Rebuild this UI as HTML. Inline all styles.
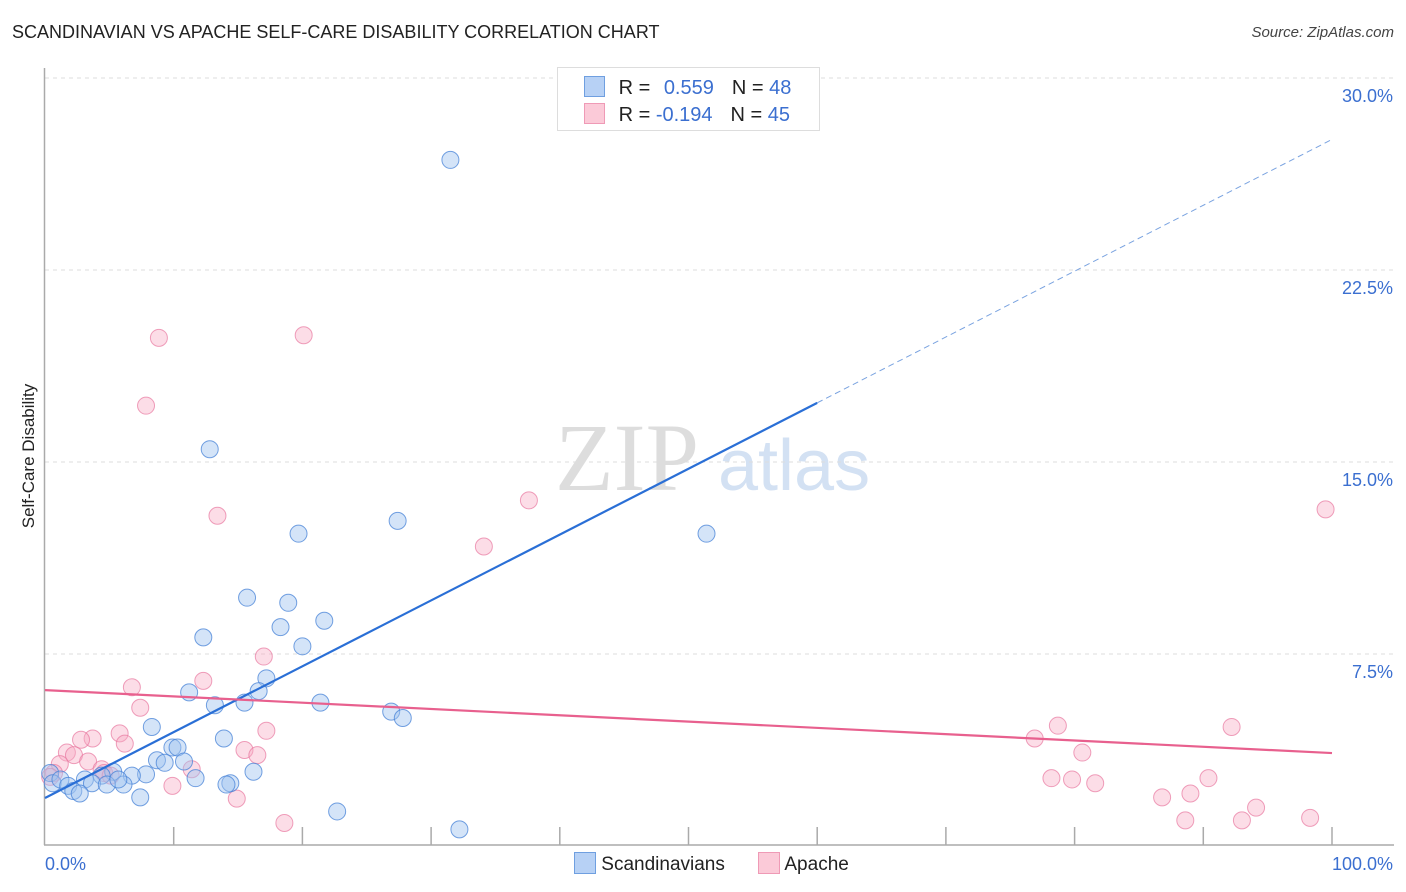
<!DOCTYPE html>
<html><head><meta charset="utf-8">
<style>
body{margin:0;background:#fff;font-family:"Liberation Sans",sans-serif;}
#wrap{position:relative;width:1406px;height:892px;overflow:hidden;}
.t{position:absolute;white-space:nowrap;}
</style></head>
<body>
<div id="wrap">
<div class="t" style="left:12px;top:22px;font-size:18px;color:#222;">SCANDINAVIAN VS APACHE SELF-CARE DISABILITY CORRELATION CHART</div>
<div class="t" style="right:12px;top:24px;font-size:15px;color:#444;font-style:italic;">Source: ZipAtlas.com</div>
<svg id="svg" width="1406" height="892" style="position:absolute;left:0;top:0"></svg>
</div>
<script>
const blueX=[31.5,12.8,27.4,19.7,51.4,15.7,18.9,21.7,18.3,12.3,20.0,17.2,11.2,16.6,13.2,15.5,21.4,26.9,27.8,8.3,13.9,9.9,10.3,8.7,9.3,10.8,16.2,7.85,6.75,5.3,11.7,14.4,14.1,4.4,3.1,6.1,3.65,4.8,5.7,0.4,0.6,1.2,1.8,2.2,2.7,7.4,22.7,32.2];
const blueY=[26.8,15.5,12.7,12.2,12.2,9.7,9.5,8.8,8.55,8.15,7.8,6.55,6.0,6.05,5.5,5.6,5.6,5.25,5.0,4.65,4.2,3.85,3.85,3.35,3.25,3.3,2.9,2.8,2.75,2.9,2.65,2.45,2.4,2.75,2.6,2.4,2.45,2.4,2.6,2.85,2.45,2.6,2.35,2.15,2.05,1.9,1.35,0.65];
const pinkX=[8.85,20.1,7.85,13.4,37.6,34.1,99.5,17.0,12.3,6.75,7.4,17.2,5.8,3.7,2.8,6.2,1.7,2.25,15.5,16.5,3.35,1.15,4.4,4.6,11.4,5.1,0.7,9.9,14.9,18.6,76.9,78.7,92.2,80.6,78.2,79.8,81.6,90.4,89.0,86.8,94.1,88.6,93.0,98.3,0.4];
const pinkY=[19.85,19.95,17.2,12.9,13.5,11.7,13.15,7.4,6.45,6.2,5.4,4.5,4.4,4.2,4.15,4.0,3.65,3.55,3.75,3.55,3.3,3.2,3.0,2.85,3.0,2.75,2.85,2.35,1.85,0.9,4.2,4.7,4.65,3.65,2.65,2.6,2.45,2.65,2.05,1.9,1.5,1.0,1.0,1.1,2.7];
const yTicks=[7.5,15,22.5,30];
const yTickLabels=["7.5%","15.0%","22.5%","30.0%"];
const blueTrend=[1.875,27.6];
const pinkTrend=[6.09,3.63];

const X=v=>45+v*12.87, Y=v=>846-v*25.6;
const svg=document.getElementById('svg');
const NS='http://www.w3.org/2000/svg';
function mk(tag,attrs,parent){const e=document.createElementNS(NS,tag);for(const k in attrs)e.setAttribute(k,attrs[k]);(parent||svg).appendChild(e);return e;}

// watermark
let w=mk('text',{x:555,y:490,'font-size':96,'font-family':'Liberation Serif,serif',fill:'#ddd'});w.textContent='ZIP';


let w2=mk('text',{x:718,y:490,'font-size':72,'font-family':'Liberation Sans,sans-serif',fill:'#d3e1f3'});w2.textContent='atlas';



yTicks.forEach((t,i)=>{
  const g=mk('line',{x1:45,x2:1394,y1:Y(t),y2:Y(t),stroke:'#ddd','stroke-dasharray':'4,4'});
  
  
  const l=mk('text',{x:1393,y:Y(t)+24,'text-anchor':'end','font-size':18,fill:'#3b6fd0'});
  l.textContent=yTickLabels[i];
  
  
});
let ax=mk('line',{x1:44.5,x2:44.5,y1:68,y2:845,stroke:'#aaa','stroke-width':1.5});


let bx=mk('line',{x1:44,x2:1394,y1:845,y2:845,stroke:'#aaa','stroke-width':1.5});


for(let i=1;i<=10;i++){
  const t=mk('line',{x1:X(i*10),x2:X(i*10),y1:827,y2:845,stroke:'#aaa','stroke-width':1.5});
  
  
}
let xl=mk('text',{x:45,y:870,'font-size':18,fill:'#3b6fd0'});xl.textContent='0.0%';


let xr=mk('text',{x:1393,y:870,'text-anchor':'end','font-size':18,fill:'#3b6fd0'});xr.textContent='100.0%';


let yt=mk('text',{x:34,y:456,'font-size':17,fill:'#222','text-anchor':'middle',transform:'rotate(-90 34 456)'});yt.textContent='Self-Care Disability';



pinkX.forEach((x,i)=>{
  const c=mk('circle',{cx:X(x),cy:Y(pinkY[i]),r:8.5,fill:'rgba(248,170,195,0.4)',stroke:'rgba(232,120,160,0.7)','stroke-width':1});
  
  
});
blueX.forEach((x,i)=>{
  const c=mk('circle',{cx:X(x),cy:Y(blueY[i]),r:8.5,fill:'rgba(160,195,240,0.45)',stroke:'rgba(70,130,215,0.75)','stroke-width':1});
  
  
});
const bAt=v=>blueTrend[0]+(blueTrend[1]-blueTrend[0])*v/100;
let bl=mk('line',{x1:X(0),y1:Y(bAt(0)),x2:X(60),y2:Y(bAt(60)),stroke:'#2a6fd6','stroke-width':2.2});


let bd=mk('line',{x1:X(60),y1:Y(bAt(60)),x2:X(100),y2:Y(bAt(100)),stroke:'#7aa3e0','stroke-width':1,'stroke-dasharray':'6,4'});


let pl=mk('line',{x1:X(0),y1:Y(pinkTrend[0]),x2:X(100),y2:Y(pinkTrend[1]),stroke:'#e8608e','stroke-width':2.2});


</script>
<div class="t" style="left:557px;top:67px;width:261px;height:62px;border:1px solid #ddd;background:#fff;font-size:20px;">
  <div style="position:absolute;left:26px;top:8px;">
    <span style="display:inline-block;width:19px;height:19px;background:#b7d1f5;border:1px solid #6f9fe0;vertical-align:-3px;"></span>
    <span style="color:#222;margin-left:8px;">R = </span><span style="color:#3b6fd0;margin-left:8px;">0.559</span><span style="color:#222;margin-left:18px;">N = </span><span style="color:#3b6fd0">48</span>
  </div>
  <div style="position:absolute;left:26px;top:35px;">
    <span style="display:inline-block;width:19px;height:19px;background:#fbcad8;border:1px solid #ef9ab6;vertical-align:-3px;"></span>
    <span style="color:#222;margin-left:8px;">R = </span><span style="color:#3b6fd0;">-0.194</span><span style="color:#222;margin-left:18px;">N = </span><span style="color:#3b6fd0">45</span>
  </div>
</div>
<div class="t" style="left:574px;top:852px;font-size:19px;color:#222;">
  <span><span style="display:inline-block;width:20px;height:20px;background:#b7d1f5;border:1px solid #6f9fe0;vertical-align:-4px;"></span> Scandinavians</span>
  <span style="margin-left:28px;"><span style="display:inline-block;width:20px;height:20px;background:#fbcad8;border:1px solid #ef9ab6;vertical-align:-4px;"></span> Apache</span>
</div>
</body></html>
